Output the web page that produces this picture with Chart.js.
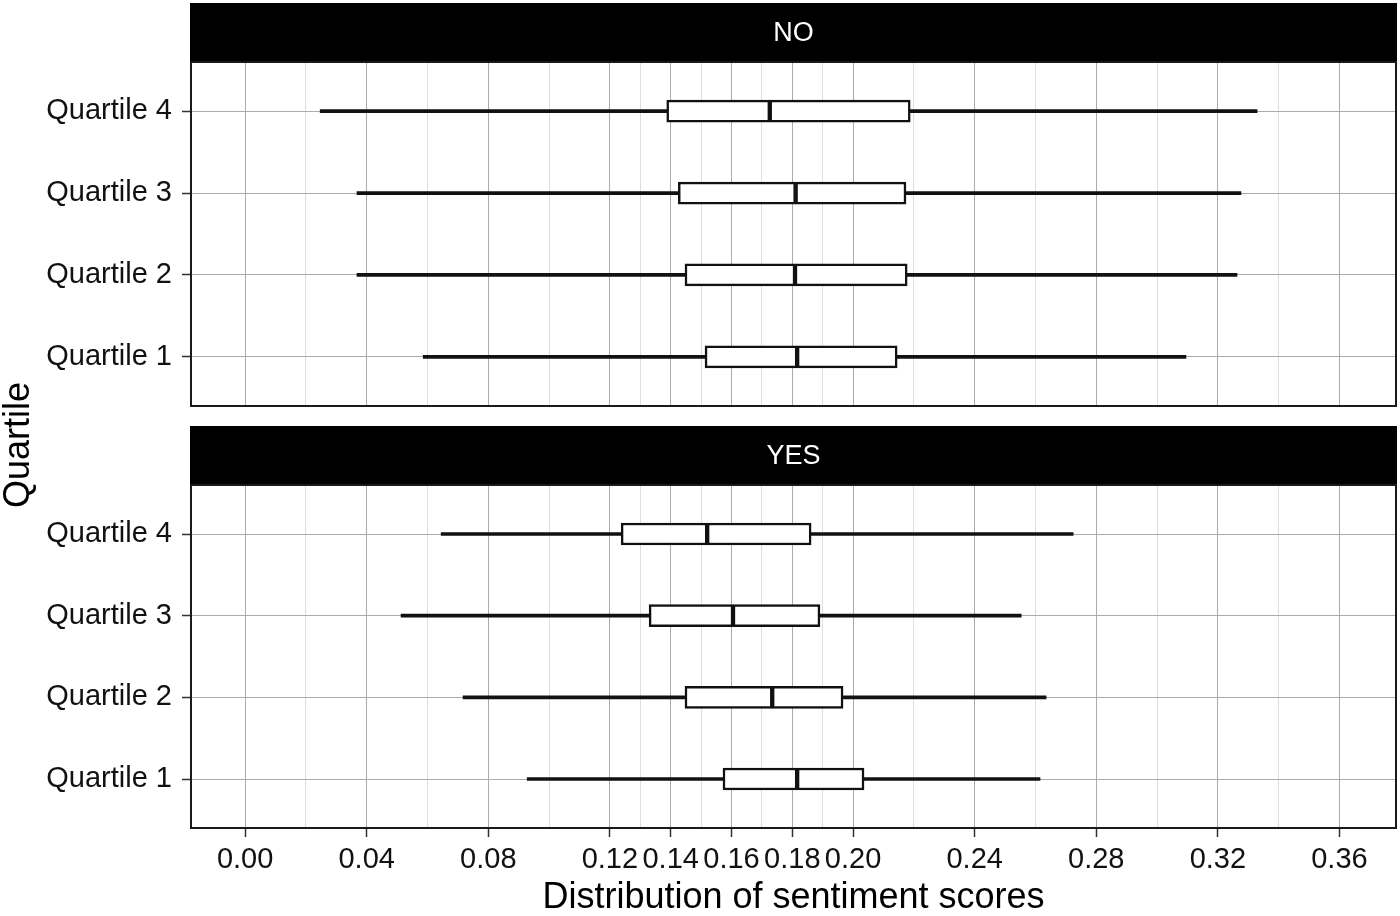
<!DOCTYPE html>
<html>
<head>
<meta charset="utf-8">
<title>Distribution of sentiment scores</title>
<script src="https://cdn.jsdelivr.net/npm/chart.js@4.4.1/dist/chart.umd.min.js"></script>
<style>
  html, body { margin: 0; padding: 0; background: #fff; }
  #wrap { position: relative; width: 1400px; height: 916px; }
  #wrap canvas { position: absolute; left: 0; top: 0; }
</style>
</head>
<body>
<div id="wrap">
  <canvas id="noChart" width="1400" height="916"></canvas>
  <canvas id="yesChart" width="1400" height="916"></canvas>
</div>
<script>
// Box plot summaries
const categories = ['Quartile 1', 'Quartile 2', 'Quartile 3', 'Quartile 4'];

// Panel "NO"
const noMin = [0.0586, 0.0368, 0.0368, 0.0247];
const noQ1  = [0.1513, 0.1447, 0.1425, 0.1387];
const noMed = [0.1816, 0.1809, 0.1811, 0.1726];
const noQ3  = [0.2145, 0.2178, 0.2174, 0.2188];
const noMax = [0.3095, 0.3263, 0.3276, 0.3329];

// Panel "YES"
const yesMin = [0.0928, 0.0717, 0.0513, 0.0645];
const yesQ1  = [0.1572, 0.1447, 0.1329, 0.1237];
const yesMed = [0.1816, 0.1734, 0.1605, 0.1520];
const yesQ3  = [0.2036, 0.1967, 0.1891, 0.1862];
const yesMax = [0.2615, 0.2635, 0.2553, 0.2724];

// x axis
const majorTicks = [0.00, 0.04, 0.08, 0.12, 0.14, 0.16, 0.18, 0.20, 0.24, 0.28, 0.32, 0.36];
const minorTicks = [0.02, 0.06, 0.10, 0.13, 0.15, 0.17, 0.19, 0.22, 0.26, 0.30, 0.34];
const xMin = -0.0178;
const xMax = 0.3786;

const FONT = '"Liberation Sans", Arial, Helvetica, sans-serif';
const INK = '#111';
const majorGrid = '#ababab';
const minorGrid = '#dedede';

const allTicks = majorTicks.concat(minorTicks).sort((a, b) => a - b);
const isMinor = v => minorTicks.some(m => Math.abs(m - v) < 1e-9);

// strip on top of each panel + panel frame
const facetPanel = {
    id: 'facetPanel',
    afterDraw(chart, args, opts) {
        const { ctx, chartArea: a } = chart;
        ctx.save();
        ctx.fillStyle = '#000';
        ctx.fillRect(a.left - 1, a.top - opts.stripHeight, a.right - a.left + 2, opts.stripHeight);
        ctx.fillStyle = '#fff';
        ctx.font = '27px ' + FONT;
        ctx.textAlign = 'center';
        ctx.textBaseline = 'middle';
        ctx.fillText(opts.label, (a.left + a.right) / 2, a.top - opts.stripHeight / 2 + 1);

        ctx.strokeStyle = '#1a1a1a';
        ctx.lineWidth = 2;
        ctx.strokeRect(a.left, a.top, a.right - a.left, a.bottom - a.top);

        if (opts.yTitle) {
            ctx.translate(opts.yTitleX, opts.yTitleY);
            ctx.rotate(-Math.PI / 2);
            ctx.fillStyle = '#000';
            ctx.font = '36px ' + FONT;
            ctx.fillText(opts.yTitle, 0, 0);
        }
        ctx.restore();
    }
};

function rangeData(lo, hi) {
    return categories.map((c, i) => ({ y: i + 1, x: [lo[i], hi[i]] }));
}

function makeChart(canvasId, label, stats, layout) {
    const [mins, q1s, meds, q3s, maxs] = stats;
    const whisker = { backgroundColor: INK, borderWidth: 0, barThickness: 3 };
    const box = { backgroundColor: '#fff', borderColor: INK, borderWidth: 2.5, borderSkipped: false, barThickness: 22 };

    return new Chart(document.getElementById(canvasId), {
        type: 'bar',
        data: {
            datasets: [
                { label: 'lower whisker', data: rangeData(mins, q1s), ...whisker },
                { label: 'upper whisker', data: rangeData(q3s, maxs), ...whisker },
                { label: 'q1-median', data: rangeData(q1s, meds), ...box },
                { label: 'median-q3', data: rangeData(meds, q3s), ...box }
            ]
        },
        options: {
            indexAxis: 'y',
            responsive: false,
            animation: false,
            events: [],
            datasets: { bar: { grouped: false } },
            layout: { padding: layout.padding },
            plugins: {
                legend: { display: false },
                tooltip: { enabled: false },
                facetPanel: {
                    label: label,
                    stripHeight: 59,
                    yTitle: layout.yTitle,
                    yTitleX: 19,
                    yTitleY: 445
                }
            },
            scales: {
                x: {
                    type: 'linear',
                    min: xMin,
                    max: xMax,
                    stacked: false,
                    afterBuildTicks: s => { s.ticks = allTicks.map(v => ({ value: v })); },
                    afterFit: s => { s.height = layout.xHeight; },
                    border: { display: false },
                    grid: {
                        color: c => isMinor(c.tick.value) ? minorGrid : majorGrid,
                        lineWidth: 1,
                        drawTicks: layout.showX,
                        tickLength: 9,
                        tickWidth: 1.5,
                        tickColor: c => isMinor(c.tick.value) ? 'rgba(0,0,0,0)' : '#333'
                    },
                    ticks: {
                        display: layout.showX,
                        autoSkip: false,
                        maxRotation: 0,
                        minRotation: 0,
                        padding: 6,
                        color: INK,
                        font: { family: FONT, size: 29 },
                        callback: v => isMinor(v) ? '' : v.toFixed(2)
                    },
                    title: {
                        display: layout.showX,
                        text: 'Distribution of sentiment scores',
                        color: '#000',
                        font: { family: FONT, size: 36, lineHeight: 1 },
                        padding: { top: 0, bottom: 0 }
                    }
                },
                y: {
                    type: 'linear',
                    min: 0.4,
                    max: 4.6,
                    offset: false,
                    afterBuildTicks: s => { s.ticks = categories.map((c, i) => ({ value: i + 1 })); },
                    afterFit: s => { s.width = 191; },
                    border: { display: false },
                    grid: {
                        offset: false,
                        color: majorGrid,
                        lineWidth: 1,
                        tickLength: 9,
                        tickWidth: 1.5,
                        tickColor: '#333'
                    },
                    ticks: {
                        padding: 10,
                        color: INK,
                        font: { family: FONT, size: 29 },
                        callback: v => categories[v - 1]
                    }
                }
            }
        },
        plugins: [facetPanel]
    });
}

makeChart('noChart', 'NO', [noMin, noQ1, noMed, noQ3, noMax], {
    padding: { top: 62, bottom: 510, left: 0, right: 4 },
    xHeight: 0,
    showX: false
});

makeChart('yesChart', 'YES', [yesMin, yesQ1, yesMed, yesQ3, yesMax], {
    padding: { top: 485, bottom: 0, left: 0, right: 4 },
    xHeight: 88,
    showX: true,
    yTitle: 'Quartile'
});
</script>
</body>
</html>
